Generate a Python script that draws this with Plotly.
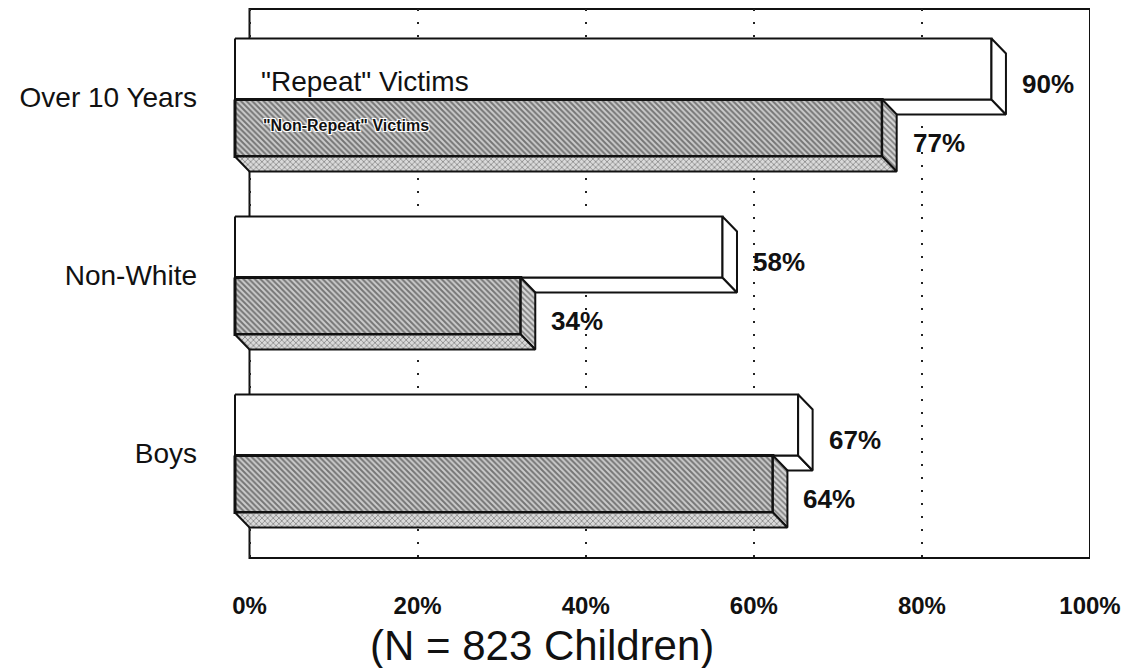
import plotly.graph_objects as go

# ---------------- data ----------------
categories = ["Over 10 Years", "Non-White", "Boys"]
repeat_pct = [90, 58, 67]
nonrepeat_pct = [77, 34, 64]
series_names = ['"Repeat" Victims', '"Non-Repeat" Victims']
x_ticks = [0, 20, 40, 60, 80, 100]
x_tick_labels = ["0%", "20%", "40%", "60%", "80%", "100%"]
footnote = "(N = 823 Children)"

# ---------------- geometry / style ----------------
W, H = 1132, 668
ML, MR, MT, MB = 220, 50, 1, 118
plot_w = W - ML - MR
plot_h = H - MT - MB
X_LO, X_HI = -2.558, 100
PX_X = plot_w / (X_HI - X_LO)
Y_TOP, Y_BOT = -0.497, 2.587          # reversed axis, category k centred at k
PX_Y = plot_h / (Y_BOT - Y_TOP)

DX = 14.5 / PX_X                       # 3-D depth, x
DY = 15 / PX_Y                         # 3-D depth, y (downwards)
TOP, SPLIT, BOT = 0.3315, 0.0112, 0.3315

FONT = "Liberation Sans, Arial, Helvetica, sans-serif"
LINE = "#111111"
GRAY_PAT = dict(shape="\\", fgcolor="#1e1e1e", bgcolor="#cccccc", size=4, solidity=0.5)
GRAY_PAT_SIDE = dict(shape="\\", fgcolor="#2a2a2a", bgcolor="#d6d6d6", size=4, solidity=0.45)
GRAY_PAT_BOT = dict(shape="x", fgcolor="#2a2a2a", bgcolor="#dadada", size=4, solidity=0.35)


def poly(xs, ys, fillcolor="white", pattern=None, width=2):
    tr = go.Scatter(
        x=list(xs) + [xs[0]], y=list(ys) + [ys[0]],
        mode="lines", fill="toself", fillcolor=fillcolor,
        line=dict(color=LINE, width=width),
        hoverinfo="skip", showlegend=False,
    )
    if pattern is not None:
        tr.update(fillpattern=pattern)
    return tr


def bar3d(v, y0, y1, front_fill, front_pat, side_pat, bot_pat, width):
    x0f, x1f = -DX, v - DX
    bottom = poly([x0f, x1f, v, 0], [y1, y1, y1 + DY, y1 + DY],
                  fillcolor="#dadada" if bot_pat else "white", pattern=bot_pat, width=2)
    front = poly([x0f, x1f, x1f, x0f], [y0, y0, y1, y1],
                 fillcolor=front_fill, pattern=front_pat, width=width)
    side = poly([x1f, v, v, x1f], [y0, y0 + DY, y1 + DY, y1],
                fillcolor="#d6d6d6" if side_pat else "white", pattern=side_pat, width=2)
    return bottom, front, side


fig = go.Figure()
for k, (rv, nv) in enumerate(zip(repeat_pct, nonrepeat_pct)):
    wb, wf, ws = bar3d(rv, k - TOP, k + SPLIT, "white", None, None, None, 2)
    gb, gf, gs = bar3d(nv, k + SPLIT, k + BOT, "#cccccc", GRAY_PAT, GRAY_PAT_SIDE, GRAY_PAT_BOT, 3)
    for tr in (wb, wf, ws, gf, gs, gb):
        fig.add_trace(tr)

annotations = []
# value labels
for k, (rv, nv) in enumerate(zip(repeat_pct, nonrepeat_pct)):
    wc = (k - TOP + k + SPLIT) / 2 + DY
    gc = (k + SPLIT + k + BOT) / 2 + DY
    for v, yc in ((rv, wc), (nv, gc)):
        annotations.append(dict(
            x=v, y=yc, xref="x", yref="y", text=f"{v}%", showarrow=False,
            xanchor="left", yanchor="middle", xshift=14,
            font=dict(family=FONT, size=26, color="#111", weight="bold")))

# series labels inside the top bars
annotations.append(dict(
    x=-DX, y=(0 - TOP + SPLIT) / 2 + 0.07, xref="x", yref="y", text=series_names[0],
    showarrow=False, xanchor="left", yanchor="middle", xshift=24,
    font=dict(family=FONT, size=28, color="#111")))
annotations.append(dict(
    x=-DX, y=(SPLIT + BOT) / 2 - 0.015, xref="x", yref="y", text=series_names[1],
    showarrow=False, xanchor="left", yanchor="middle", xshift=26,
    font=dict(family=FONT, size=16, color="#111", weight="bold",
              shadow="-1px -1px 0 #fff, 1px -1px 0 #fff, -1px 1px 0 #fff, 1px 1px 0 #fff")))

# footnote
annotations.append(dict(
    x=(534 - ML) / plot_w, y=(H - MB - 638) / plot_h, xref="paper", yref="paper",
    text=footnote, showarrow=False, xanchor="center", yanchor="middle",
    font=dict(family=FONT, size=42, color="#111")))

fig.update_layout(
    width=W, height=H,
    margin=dict(l=ML, r=MR, t=MT, b=MB, pad=0),
    paper_bgcolor="white", plot_bgcolor="white",
    showlegend=False,
    annotations=annotations,
    shapes=[dict(type="rect", xref="x", yref="paper", x0=0, x1=100, y0=0, y1=1,
                 line=dict(color=LINE, width=2), layer="below")],
    xaxis=dict(
        range=[X_LO, X_HI], tickvals=x_ticks, ticktext=x_tick_labels,
        showgrid=True, gridcolor="#222", gridwidth=1.5, griddash="2px,11px",
        zeroline=False, showline=False, ticks="",
        ticklabelstandoff=31,
        tickfont=dict(family=FONT, size=24, color="#111", weight="bold"),
        fixedrange=True,
    ),
    yaxis=dict(
        range=[Y_BOT, Y_TOP], tickvals=[0, 1, 2], ticktext=categories,
        showgrid=False, zeroline=False, showline=False, ticks="",
        ticklabelstandoff=30,
        tickfont=dict(family=FONT, size=28, color="#111"),
        fixedrange=True,
    ),
)

fig.write_html("out.html")
